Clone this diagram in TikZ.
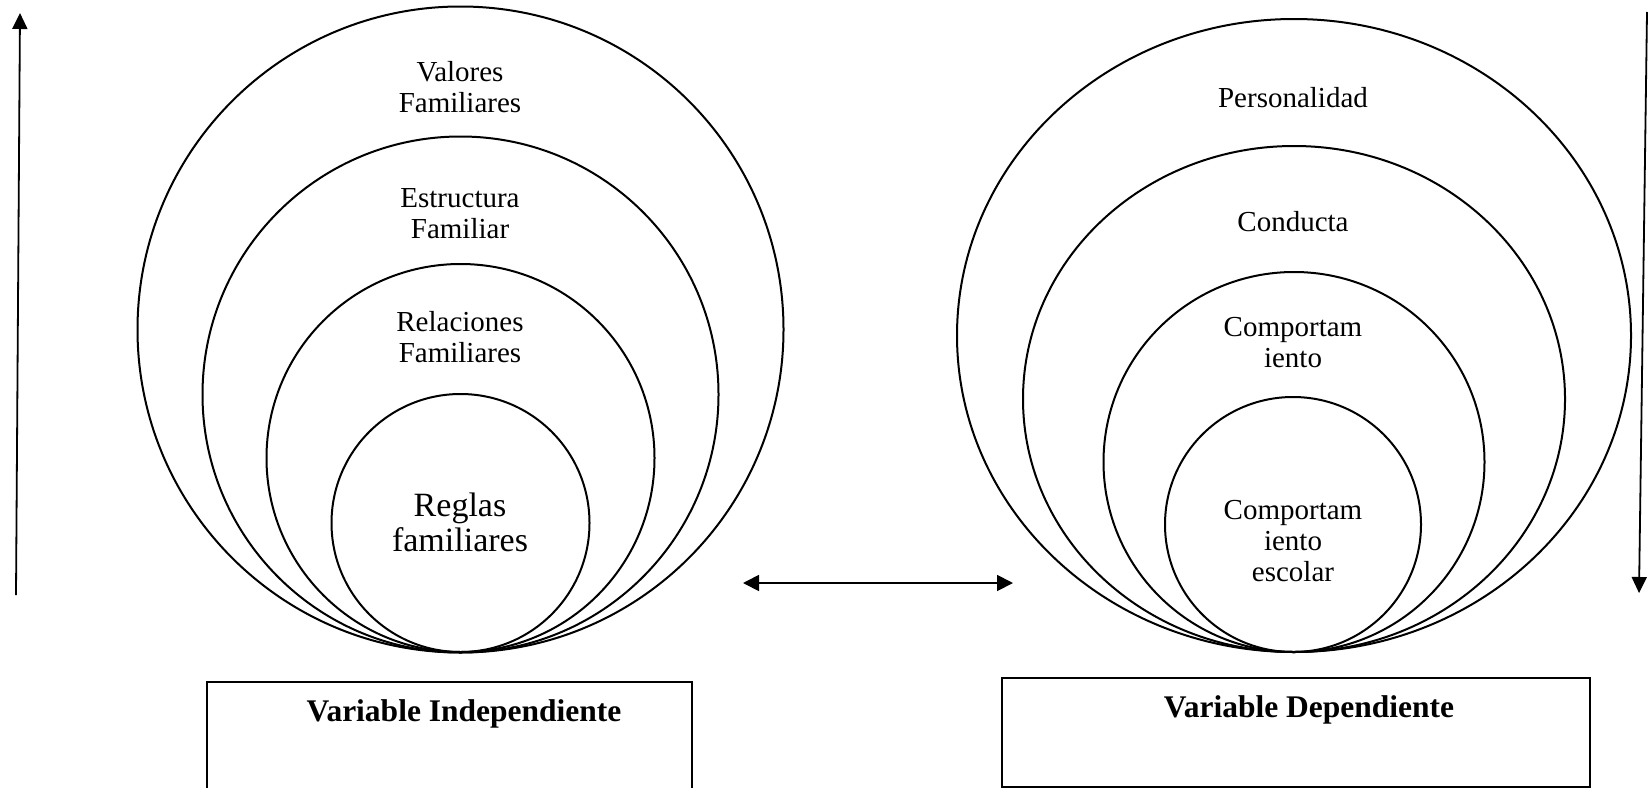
\documentclass[tikz,border=0pt]{standalone}
\usepackage{fontspec}
\setmainfont{Liberation Serif}
\usetikzlibrary{shapes.geometric,arrows.meta}
\tikzset{
  ring/.style={draw=black,line width=2pt,circle,inner sep=0pt},
  oval/.style={draw=black,line width=2pt,ellipse,inner sep=0pt},
  lbl/.style={align=center,inner sep=0pt,font=\fontsize{29}{31}\selectfont},
  biglbl/.style={align=center,inner sep=0pt,font=\fontsize{34}{35}\selectfont},
  boxlbl/.style={inner sep=0pt,font=\bfseries\fontsize{31.5}{33}\selectfont},
  varbox/.style={draw=black,line width=1.5pt,rectangle,inner sep=0pt},
  arr/.style={line width=1.8pt,-{Triangle[width=15pt,length=16pt]}},
  darr/.style={line width=1.8pt,{Triangle[width=16pt,length=16pt]}-{Triangle[width=16pt,length=16pt]}}
}
\begin{document}
\begin{tikzpicture}[x=1pt,y=-1pt]
\useasboundingbox (0,0) rectangle (1648,787);
\clip (0,0) rectangle (1648,787);
% left nested circles
\node[ring,minimum size=646pt] (L1) at (460.5,329.5) {};
\node[ring,minimum size=516pt] (L2) at (460.5,394.5) {};
\node[ring,minimum size=388pt] (L3) at (460.5,458) {};
\node[ring,minimum size=258pt] (L4) at (460.5,523) {};
\node[lbl] (t1) at (460,87.5) {Valores\\Familiares};
\node[lbl] (t2) at (460,214) {Estructura\\Familiar};
\node[lbl] (t3) at (460,337.5) {Relaciones\\Familiares};
\node[biglbl] (t4) at (460,522.5) {Reglas\\familiares};
% right nested ellipses
\node[oval,minimum width=674pt,minimum height=633pt] (R1) at (1294,335.5) {};
\node[oval,minimum width=542pt,minimum height=506pt] (R2) at (1294,399) {};
\node[oval,minimum width=381pt,minimum height=380pt] (R3) at (1294,462) {};
\node[oval,minimum width=256pt,minimum height=255pt] (R4) at (1293,524.5) {};
\node[lbl] (s1) at (1293,98) {Personalidad};
\node[lbl] (s2) at (1293,222) {Conducta};
\node[lbl] (s3) at (1293,342.5) {Comportam\\iento};
\node[lbl] (s4) at (1293,541) {Comportam\\iento\\escolar};
% boxes
\node[varbox,minimum width=485pt,minimum height=130pt,anchor=north west] (bl) at (206,681) {};
\node[boxlbl] (bltxt) at (464,714) {Variable Independiente};
\node[varbox,minimum width=588pt,minimum height=109pt,anchor=north west] (br) at (1001,677) {};
\node[boxlbl] (brtxt) at (1309,710) {Variable Dependiente};
% arrows
\coordinate (la0) at (16,595);
\coordinate (la1) at (20,13);
\draw[arr] (la0) -- (la1);
\coordinate (ra0) at (1647,12);
\coordinate (ra1) at (1639,593);
\draw[arr] (ra0) -- (ra1);
\coordinate (ma0) at (743,583);
\coordinate (ma1) at (1013,583);
\draw[darr] (ma0) -- (ma1);
\end{tikzpicture}
\end{document}
